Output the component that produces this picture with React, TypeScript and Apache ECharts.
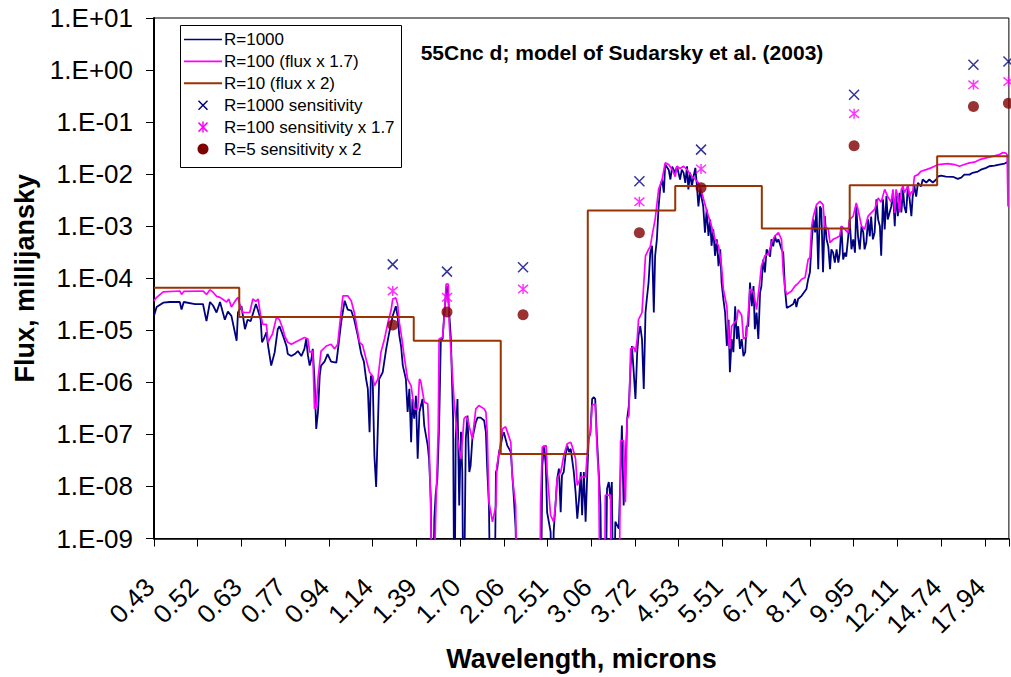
import React, { useEffect, useRef } from 'react';
import * as echarts from 'echarts';

// x positions are in "tick units": 0 = first tick label (0.43 micron), 1 = next label, ...
const tickLabels = ['0.43', '0.52', '0.63', '0.77', '0.94', '1.14', '1.39', '1.70', '2.06', '2.51', '3.06', '3.72', '4.53', '5.51', '6.71', '8.17', '9.95', '12.11', '14.74', '17.94'];
const X_MAX = 19.55;

// R=1000 spectrum [position, flux (mJy)]; 1e-11 = below the plotted range
const r1000Flux: [number, number][] = [
  [0.00, 1.9e-5], [0.06, 2.8e-5], [0.21, 3.4e-5], [0.36, 3.5e-5], [0.59, 3.5e-5], [0.63, 2.5e-5], [0.68, 3.5e-5], [0.94, 3.2e-5], [1.12, 3.2e-5], [1.20, 1.5e-5],
  [1.28, 3.5e-5], [1.35, 3.0e-5], [1.43, 2.2e-5], [1.51, 3.5e-5], [1.62, 1.6e-5], [1.69, 2.3e-5], [1.77, 1.9e-5], [1.89, 6.3e-6], [1.92, 2.2e-5], [2.00, 2.9e-5],
  [2.08, 1.05e-5], [2.14, 1.6e-5], [2.21, 1.5e-5], [2.33, 3.2e-5], [2.38, 2.4e-5], [2.44, 1.6e-5], [2.47, 5.9e-6], [2.51, 6.8e-6], [2.57, 9.2e-6], [2.61, 5.0e-6],
  [2.68, 2.1e-6], [2.76, 3.8e-6], [2.83, 1.05e-5], [2.87, 1.2e-5], [2.95, 7.9e-6], [3.03, 5.0e-6], [3.06, 3.5e-6], [3.14, 3.2e-6], [3.22, 3.5e-6], [3.29, 4.0e-6],
  [3.37, 3.2e-6], [3.44, 4.4e-6], [3.48, 6.8e-6], [3.52, 3.3e-6], [3.56, 2.1e-6], [3.60, 2.8e-6], [3.63, 4.4e-6], [3.67, 1.16e-6], [3.71, 1.28e-7], [3.75, 2.7e-7],
  [3.79, 1.34e-6], [3.82, 2.1e-6], [3.90, 2.5e-6], [3.97, 3.5e-6], [4.05, 2.5e-6], [4.17, 2.4e-6], [4.20, 3.8e-6], [4.28, 1.42e-5], [4.36, 3.7e-5], [4.43, 2.5e-5],
  [4.51, 2.4e-5], [4.58, 1.6e-5], [4.66, 7.9e-6], [4.74, 3.5e-6], [4.80, 2.5e-6], [4.85, 1.16e-6], [4.89, 7.5e-7], [4.93, 1.1e-7], [4.96, 1.34e-6], [5.00, 1.27e-6],
  [5.04, 3.9e-8], [5.08, 9.8e-9], [5.12, 1.48e-7], [5.15, 1.16e-6], [5.23, 1.56e-6], [5.31, 4.4e-6], [5.38, 9.1e-6], [5.46, 1.9e-5], [5.53, 2.9e-5], [5.57, 1.9e-5],
  [5.61, 7.9e-6], [5.65, 5.0e-6], [5.69, 2.1e-6], [5.76, 1.16e-6], [5.80, 2.7e-7], [5.84, 7.5e-7], [5.88, 7.1e-8], [5.91, 4.8e-7], [5.95, 2.0e-7], [5.99, 5.5e-7],
  [6.03, 3.4e-8], [6.07, 2.7e-7], [6.14, 4.8e-7], [6.18, 1.48e-7], [6.26, 6.1e-8], [6.29, 3.4e-8], [6.33, 5.8e-9], [6.37, 1e-11], [6.41, 2.4e-9], [6.44, 6.8e-9],
  [6.48, 1.41e-8], [6.52, 1.48e-7], [6.56, 6.8e-6], [6.60, 6.8e-6], [6.64, 2.2e-5], [6.68, 5.3e-5], [6.71, 7.1e-5], [6.75, 2.2e-5], [6.79, 6.8e-6], [6.81, 1.56e-6],
  [6.84, 2.0e-7], [6.87, 1e-11], [6.90, 8.2e-8], [6.94, 4.8e-7], [6.98, 4.3e-9], [7.02, 1.12e-7], [7.05, 1.9e-8], [7.08, 1e-11], [7.13, 8.2e-8], [7.17, 2.3e-7],
  [7.21, 1.9e-8], [7.24, 2.5e-8], [7.28, 8.2e-8], [7.36, 1.72e-7], [7.40, 2.1e-7], [7.47, 2.1e-7], [7.55, 1.85e-7], [7.59, 1.1e-7], [7.62, 2.2e-8], [7.66, 4.3e-9],
  [7.70, 1e-11], [7.78, 1e-11], [7.82, 1.9e-8], [7.85, 2.2e-8], [7.89, 4.6e-8], [7.93, 6.1e-8], [7.97, 9.5e-8], [8.00, 1.1e-7], [8.04, 8.2e-8], [8.08, 6.1e-8],
  [8.16, 4.6e-8], [8.19, 1.9e-8], [8.23, 5.8e-9], [8.27, 1.55e-9], [8.31, 1e-11], [8.84, 1e-11], [8.88, 2.5e-8], [8.92, 6.1e-8], [8.96, 2.5e-8], [8.99, 3.2e-9],
  [9.07, 1.34e-9], [9.11, 1e-11], [9.14, 1.35e-9], [9.18, 4.3e-9], [9.22, 1.41e-8], [9.26, 2.2e-8], [9.30, 3.2e-9], [9.33, 1.63e-8], [9.37, 1.9e-8], [9.41, 3.9e-8],
  [9.45, 6.1e-8], [9.49, 4.6e-8], [9.53, 5.3e-8], [9.60, 1.9e-8], [9.64, 7.9e-9], [9.68, 2.4e-9], [9.72, 5.8e-9], [9.76, 1.9e-8], [9.79, 2.8e-9], [9.83, 1.9e-8],
  [9.87, 2.1e-9], [9.91, 1.9e-8], [9.94, 8.2e-8], [9.98, 1.1e-7], [10.02, 4.8e-7], [10.06, 5.2e-7], [10.09, 4.8e-7], [10.13, 8.2e-8], [10.17, 1.9e-8], [10.21, 4.3e-9],
  [10.25, 1e-11], [10.32, 1e-11], [10.36, 9.1e-9], [10.40, 1.22e-8], [10.44, 5.8e-9], [10.47, 1.22e-8], [10.51, 1e-11], [10.55, 2.1e-9], [10.63, 1.55e-9], [10.67, 1.9e-8],
  [10.70, 1.48e-7], [10.74, 4.3e-9], [10.78, 1.9e-8], [10.82, 2.0e-7], [10.86, 3.6e-7], [10.90, 2.1e-6], [10.93, 5.0e-6], [10.97, 1.6e-6], [11.01, 4.8e-7], [11.05, 3.8e-6],
  [11.08, 7.9e-6], [11.12, 1.2e-5], [11.16, 6.8e-6], [11.20, 7.5e-7], [11.24, 2.2e-5], [11.27, 4.0e-5], [11.31, 8.3e-5], [11.35, 3.1e-4], [11.39, 4.2e-4], [11.43, 2.2e-5],
  [11.46, 2.7e-4], [11.50, 5.6e-4], [11.54, 2.4e-3], [11.58, 5.9e-3], [11.62, 7.9e-3], [11.66, 4.4e-3], [11.69, 1.53e-2], [11.77, 1.22e-2], [11.81, 7.9e-3], [11.85, 1.4e-2],
  [11.92, 1.06e-2], [11.96, 1.42e-2], [12.03, 7.9e-3], [12.07, 1.22e-2], [12.11, 1.07e-2], [12.15, 6.8e-3], [12.19, 1.42e-2], [12.22, 5.1e-3], [12.26, 1.07e-2], [12.30, 5.8e-3],
  [12.34, 9.1e-3], [12.38, 1.32e-2], [12.41, 6.9e-3], [12.45, 2.4e-3], [12.49, 5.1e-3], [12.53, 3.3e-3], [12.56, 2.4e-3], [12.60, 7.5e-4], [12.64, 2.1e-3], [12.68, 6.5e-4],
  [12.72, 1.35e-3], [12.75, 4.2e-4], [12.79, 8.7e-4], [12.83, 2.7e-4], [12.87, 5.6e-4], [12.91, 1.7e-4], [12.95, 3.6e-4], [12.98, 8.3e-5], [13.02, 4.0e-5], [13.06, 2.2e-5],
  [13.10, 5.0e-6], [13.14, 1.6e-5], [13.17, 1.56e-6], [13.21, 6.8e-6], [13.25, 3.8e-6], [13.29, 2.9e-5], [13.33, 6.8e-6], [13.36, 1.2e-5], [13.40, 4.4e-6], [13.44, 6.8e-6],
  [13.48, 3.2e-6], [13.52, 3.8e-6], [13.55, 1.2e-5], [13.59, 1.2e-5], [13.63, 8.3e-5], [13.67, 2.9e-5], [13.71, 7.1e-5], [13.74, 1.05e-5], [13.78, 2.2e-5], [13.82, 6.8e-6],
  [13.86, 5.3e-5], [13.89, 7.0e-5], [13.93, 2.3e-4], [13.97, 1.3e-4], [14.01, 3.6e-4], [14.09, 2.6e-4], [14.12, 5.6e-4], [14.16, 4.1e-4], [14.20, 6.5e-4], [14.24, 4.9e-4],
  [14.28, 5.6e-4], [14.35, 3.6e-4], [14.39, 3.1e-4], [14.43, 6.2e-5], [14.47, 2.7e-5], [14.54, 2.9e-5], [14.62, 3.2e-5], [14.66, 4.0e-5], [14.69, 2.8e-5], [14.73, 4.0e-5],
  [14.81, 4.6e-5], [14.92, 6.2e-5], [14.96, 9.6e-5], [15.00, 1.3e-4], [15.04, 4.8e-4], [15.08, 1.35e-3], [15.12, 7.6e-4], [15.15, 2.4e-3], [15.19, 1.5e-4], [15.23, 2.4e-3],
  [15.26, 2.1e-3], [15.30, 1.3e-4], [15.34, 1.56e-3], [15.38, 5.6e-4], [15.42, 4.1e-4], [15.46, 1.5e-4], [15.49, 3.6e-4], [15.53, 3.1e-4], [15.57, 2.0e-4], [15.61, 3.6e-4],
  [15.65, 2.0e-4], [15.68, 2.9e-4], [15.72, 1.0e-3], [15.76, 2.3e-4], [15.80, 3.1e-4], [15.83, 2.6e-4], [15.87, 5.6e-4], [15.91, 1.35e-3], [15.95, 3.6e-4], [15.99, 5.6e-4],
  [16.03, 3.1e-4], [16.06, 2.4e-3], [16.10, 6.4e-4], [16.14, 3.6e-4], [16.18, 1.0e-3], [16.22, 7.6e-4], [16.25, 3.6e-4], [16.29, 4.9e-4], [16.33, 1.35e-3], [16.37, 6.4e-4],
  [16.40, 1.54e-3], [16.44, 5.6e-4], [16.48, 7.6e-4], [16.52, 3.3e-3], [16.56, 1.35e-3], [16.60, 1.0e-3], [16.63, 2.7e-4], [16.67, 3.3e-3], [16.71, 8.7e-4], [16.75, 3.8e-3],
  [16.78, 1.35e-3], [16.86, 2.4e-3], [16.90, 4.4e-3], [16.94, 1.0e-3], [16.97, 4.4e-3], [17.01, 1.56e-3], [17.05, 4.4e-3], [17.09, 1.84e-3], [17.13, 5.1e-3], [17.16, 2.4e-3],
  [17.20, 1.8e-3], [17.24, 5.9e-3], [17.28, 3.3e-3], [17.32, 1.56e-3], [17.35, 3.7e-3], [17.39, 5.9e-3], [17.43, 3.7e-3], [17.47, 6.8e-3], [17.54, 5.8e-3], [17.58, 7.9e-3],
  [17.66, 6.9e-3], [17.73, 7.9e-3], [17.81, 6.9e-3], [17.89, 7.9e-3], [17.93, 9.1e-3], [18.00, 9.4e-3], [18.11, 9.0e-3], [18.27, 8.9e-3], [18.38, 8.1e-3], [18.46, 8.6e-3],
  [18.53, 9.8e-3], [18.65, 9.8e-3], [18.72, 1.06e-2], [18.84, 1.12e-2], [18.91, 1.22e-2], [19.03, 1.32e-2], [19.10, 1.42e-2], [19.22, 1.46e-2], [19.33, 1.53e-2], [19.45, 1.6e-2],
  [19.52, 1.7e-2],
];

// R=100 spectrum x 1.7
const r100Flux: [number, number][] = [
  [0.00, 3.7e-5], [0.06, 4.3e-5], [0.21, 5.5e-5], [0.59, 5.7e-5], [0.63, 4.9e-5], [0.68, 5.6e-5], [1.12, 5.7e-5], [1.20, 4.9e-5], [1.28, 6.0e-5], [1.35, 5.4e-5],
  [1.43, 4.5e-5], [1.51, 4.3e-5], [1.66, 3.5e-5], [1.71, 4.0e-5], [1.77, 2.8e-5], [1.85, 3.6e-5], [1.92, 4.3e-5], [1.96, 3.2e-5], [2.03, 2.2e-5], [2.19, 2.2e-5],
  [2.26, 4.0e-5], [2.33, 3.6e-5], [2.38, 4.0e-5], [2.44, 1.9e-5], [2.49, 1.3e-5], [2.57, 1.3e-5], [2.61, 5.9e-6], [2.68, 7.7e-6], [2.71, 8.5e-6], [2.80, 1.77e-5],
  [2.87, 1.6e-5], [2.95, 1.05e-5], [2.99, 7.7e-6], [3.06, 5.9e-6], [3.14, 5.4e-6], [3.44, 7.3e-6], [3.52, 6.8e-6], [3.56, 3.8e-6], [3.63, 4.0e-6], [3.67, 3.1e-7],
  [3.71, 3.4e-7], [3.75, 1.16e-6], [3.82, 4.0e-6], [3.94, 5.0e-6], [4.05, 5.4e-6], [4.13, 4.4e-6], [4.20, 5.4e-6], [4.26, 1.6e-5], [4.32, 4.6e-5], [4.43, 4.6e-5],
  [4.51, 3.7e-5], [4.58, 2.2e-5], [4.70, 5.9e-6], [4.77, 5.2e-6], [4.85, 2.8e-6], [4.93, 1.56e-6], [5.00, 1.33e-6], [5.04, 8.6e-7], [5.12, 1.16e-6], [5.19, 3.8e-6],
  [5.27, 6.8e-6], [5.35, 1.42e-5], [5.42, 2.4e-5], [5.46, 4.0e-5], [5.53, 4.2e-5], [5.57, 3.2e-5], [5.61, 1.42e-5], [5.67, 6.8e-6], [5.72, 3.2e-6], [5.80, 1.16e-6],
  [5.88, 8.6e-7], [5.95, 3.1e-7], [6.03, 3.0e-7], [6.07, 1.16e-6], [6.10, 1.06e-6], [6.18, 4.2e-7], [6.26, 3.9e-7], [6.29, 8.2e-8], [6.33, 3.2e-9], [6.37, 1e-11],
  [6.44, 2.4e-9], [6.50, 1.28e-7], [6.52, 6.8e-6], [6.60, 7.4e-6], [6.64, 1.9e-5], [6.68, 7.7e-5], [6.73, 7.7e-5], [6.75, 1.42e-5], [6.81, 2.1e-6], [6.86, 4.8e-7],
  [6.94, 8.2e-8], [7.02, 3.4e-8], [7.09, 2.0e-7], [7.13, 2.2e-7], [7.17, 2.0e-7], [7.24, 1.12e-7], [7.28, 8.2e-8], [7.36, 3.1e-7], [7.43, 3.6e-7], [7.55, 3.1e-7],
  [7.59, 2.7e-7], [7.62, 1.1e-7], [7.66, 5.0e-9], [7.74, 2.1e-9], [7.82, 4.3e-9], [7.84, 2.5e-8], [7.89, 4.2e-8], [7.97, 1.28e-7], [8.04, 1.4e-7], [8.08, 1.12e-7],
  [8.16, 7.1e-8], [8.19, 1.63e-8], [8.27, 4.3e-9], [8.31, 1e-11], [8.82, 1e-11], [8.84, 5.0e-9], [8.88, 5.7e-8], [8.97, 6.1e-8], [8.99, 1.9e-8], [9.07, 2.8e-9],
  [9.14, 2.1e-9], [9.18, 4.3e-9], [9.22, 1.41e-8], [9.30, 1.9e-8], [9.33, 2.5e-8], [9.37, 3.9e-8], [9.45, 6.6e-8], [9.53, 7.1e-8], [9.56, 6.0e-8], [9.60, 4.6e-8],
  [9.64, 3.4e-8], [9.68, 1.05e-8], [9.76, 1.52e-8], [9.87, 1.52e-8], [9.91, 4.6e-8], [9.94, 8.2e-8], [9.98, 1.12e-7], [10.02, 3.6e-7], [10.09, 3.9e-7], [10.13, 5.7e-8],
  [10.17, 1.41e-8], [10.21, 1e-11], [10.30, 1e-11], [10.32, 6.8e-9], [10.44, 6.8e-9], [10.47, 1e-11], [10.63, 1e-11], [10.67, 7.6e-8], [10.74, 7.6e-8], [10.78, 5.0e-9],
  [10.82, 2.0e-7], [10.86, 2.3e-7], [10.90, 4.4e-6], [10.97, 4.8e-6], [11.01, 3.8e-6], [11.05, 6.8e-6], [11.08, 1.6e-5], [11.16, 2.2e-5], [11.24, 2.7e-4], [11.31, 3.6e-4],
  [11.35, 4.1e-4], [11.39, 6.5e-4], [11.46, 1.35e-3], [11.54, 5.1e-3], [11.62, 7.9e-3], [11.69, 1.65e-2], [11.77, 1.53e-2], [11.85, 1.22e-2], [11.92, 9.0e-3], [11.96, 1.42e-2],
  [12.03, 1.28e-2], [12.11, 1.42e-2], [12.19, 1.22e-2], [12.22, 1.12e-2], [12.30, 9.1e-3], [12.38, 7.9e-3], [12.45, 6.8e-3], [12.53, 4.4e-3], [12.60, 2.6e-3], [12.68, 1.56e-3],
  [12.75, 1.0e-3], [12.83, 5.6e-4], [12.91, 4.2e-4], [12.98, 1.7e-4], [13.02, 6.2e-5], [13.10, 2.9e-5], [13.14, 6.8e-6], [13.17, 4.4e-6], [13.21, 1.2e-5], [13.33, 1.6e-5],
  [13.36, 2.5e-5], [13.44, 1.95e-5], [13.48, 6.8e-6], [13.55, 7.7e-6], [13.63, 6.2e-5], [13.71, 5.4e-5], [13.78, 2.5e-5], [13.86, 9.6e-5], [13.89, 1.7e-4], [13.97, 2.7e-4],
  [14.05, 2.9e-4], [14.12, 4.8e-4], [14.20, 6.5e-4], [14.28, 7.5e-4], [14.35, 5.6e-4], [14.39, 1.3e-4], [14.43, 6.2e-5], [14.47, 4.9e-5], [14.58, 5.7e-5], [14.66, 7.1e-5],
  [14.73, 8.0e-5], [14.81, 9.6e-5], [14.89, 1.04e-4], [14.96, 2.3e-4], [15.00, 2.5e-4], [15.04, 1.0e-3], [15.08, 1.56e-3], [15.15, 2.6e-3], [15.23, 3.0e-3], [15.30, 2.6e-3],
  [15.34, 1.0e-3], [15.42, 8.7e-4], [15.46, 4.8e-4], [15.53, 5.6e-4], [15.61, 6.0e-4], [15.68, 6.5e-4], [15.72, 1.0e-3], [15.80, 8.7e-4], [15.87, 7.5e-4], [15.91, 1.35e-3],
  [15.99, 1.56e-3], [16.06, 2.8e-3], [16.10, 2.1e-3], [16.18, 1.0e-3], [16.25, 8.7e-4], [16.33, 1.56e-3], [16.40, 1.8e-3], [16.48, 2.1e-3], [16.56, 3.5e-3], [16.63, 2.9e-3],
  [16.71, 5.1e-3], [16.78, 3.7e-3], [16.86, 2.9e-3], [16.90, 5.1e-3], [16.94, 1.8e-3], [16.97, 5.1e-3], [17.01, 3.7e-3], [17.05, 1.84e-3], [17.09, 5.1e-3], [17.13, 5.9e-3],
  [17.16, 4.4e-3], [17.24, 5.9e-3], [17.28, 3.7e-3], [17.32, 4.6e-3], [17.35, 4.4e-3], [17.39, 9.1e-3], [17.47, 9.8e-3], [17.54, 1.14e-2], [17.66, 1.22e-2], [17.77, 1.32e-2],
  [17.85, 1.42e-2], [17.93, 1.53e-2], [18.15, 1.6e-2], [18.31, 1.53e-2], [18.42, 1.42e-2], [18.53, 1.53e-2], [18.65, 1.65e-2], [18.76, 1.7e-2], [18.88, 1.9e-2], [19.03, 2.05e-2],
  [19.18, 2.2e-2], [19.33, 2.37e-2], [19.41, 2.6e-2], [19.48, 2.55e-2], [19.51, 2.37e-2], [19.53, 2.4e-3],
];

// R=10 spectrum x 2 : bins (start position) and flux
const r10BinStart = [0, 1.95, 3.94, 5.94, 7.93, 9.92, 11.92, 13.9, 15.91, 17.91];
const r10Flux = [6.6e-5, 1.8e-5, 1.8e-5, 6.3e-6, 4.2e-8, 2.0e-3, 5.9e-3, 9.0e-4, 6.1e-3, 2.2e-2];
const r10End = 19.55;

// Sensitivities
const sensPos = [5.46, 6.70, 8.44, 11.10, 12.51, 16.01, 18.74, 19.54];
const sensR1000 = [1.85e-4, 1.34e-4, 1.63e-4, 7.3e-3, 2.96e-2, 0.335, 1.26, 1.46];
const sensR100 = [5.7e-5, 4.3e-5, 6.2e-5, 2.94e-3, 1.26e-2, 0.145, 0.52, 0.60];
const sensR5 = [1.26e-5, 2.26e-5, 2.0e-5, 7.5e-4, 5.5e-3, 3.5e-2, 0.2, 0.23];

const seriesNames = ['R=1000', 'R=100 (flux x 1.7)', 'R=10 (flux x 2)', 'R=1000 sensitivity', 'R=100 sensitivity x 1.7', 'R=5 sensitivity x 2'];
const chartTitle = '55Cnc d; model of Sudarsky et al. (2003)';

const NAVY = '#000080';
const MAGENTA = '#FF00FF';
const BROWN = '#993300';
const DARKRED = '#800000';
const FONT = '"Liberation Sans", Arial, sans-serif';

const CROSS = 'path://M0,0L10,10M10,0L0,10';
const STAR = 'path://M0,0L10,10M10,0L0,10M5,-1L5,11';

export default function App() {
  const ref = useRef<HTMLDivElement>(null);
  useEffect(() => {
    const chart = echarts.init(ref.current!, null, { renderer: 'svg' });
    const r10Data: [number, number][] = r10BinStart.map((s, i) => [s, r10Flux[i]] as [number, number]);
    r10Data.push([r10End, r10Flux[r10Flux.length - 1]]);

    const legendX = 180.5, legendY = 25.5, legendW = 221, legendH = 142;
    const rowY = (i: number) => 39.5 + i * 21.9;
    const legendText = (i: number) => ({
      type: 'text', x: 224, y: rowY(i), z: 101,
      style: { text: seriesNames[i], fill: '#000', font: `17px ${FONT}`, textAlign: 'left', textVerticalAlign: 'middle', align: 'left', verticalAlign: 'middle' },
    });
    const mx = 203;

    const option: any = {
      animation: false,
      backgroundColor: '#fff',
      textStyle: { fontFamily: FONT },
      grid: { left: 154, top: 18, right: 0, bottom: 137, show: true, borderColor: '#000', borderWidth: 1, backgroundColor: 'transparent' },
      xAxis: {
        type: 'value', min: 0, max: X_MAX, interval: 1,
        axisLine: { show: true, onZero: false, lineStyle: { color: '#000', width: 1.5 } },
        axisTick: { show: true, inside: false, length: 8, lineStyle: { color: '#000', width: 1 } },
        axisLabel: {
          rotate: 45, margin: 40, fontSize: 26, color: '#000', fontFamily: FONT,
          padding: [0, 6, 13, 0],
          formatter: (v: number) => {
            const i = Math.round(v);
            return Math.abs(v - i) < 1e-6 && tickLabels[i] ? tickLabels[i] : '';
          },
        },
        splitLine: { show: false },
        name: 'Wavelength, microns', nameLocation: 'middle', nameGap: 102,
        nameTextStyle: { fontSize: 27, fontWeight: 'bold', color: '#000', fontFamily: FONT },
      },
      yAxis: {
        type: 'log', logBase: 10, min: 1e-9, max: 10, interval: 1, splitNumber: 10,
        axisLine: { show: true, lineStyle: { color: '#000', width: 2 } },
        axisTick: { show: true, inside: false, length: 8, lineStyle: { color: '#000', width: 1 } },
        axisLabel: {
          fontSize: 26, margin: 21, color: '#000', fontFamily: FONT,
          formatter: (v: number) => {
            const e = Math.round(Math.log10(v));
            return `1.E${e < 0 ? '-' : '+'}${String(Math.abs(e)).padStart(2, '0')}`;
          },
        },
        splitLine: { show: false },
        minorTick: { show: false },
        name: 'Flux, millijansky', nameLocation: 'middle', nameRotate: 90, nameGap: 112,
        nameTextStyle: { fontSize: 27, fontWeight: 'bold', color: '#000', fontFamily: FONT },
      },
      series: [
        { name: seriesNames[0], type: 'line', data: r1000Flux, showSymbol: false, symbol: 'none', lineStyle: { color: NAVY, width: 1.8 }, itemStyle: { color: NAVY }, clip: true, z: 2 },
        { name: seriesNames[1], type: 'line', data: r100Flux, showSymbol: false, symbol: 'none', lineStyle: { color: MAGENTA, width: 1.7 }, itemStyle: { color: MAGENTA }, clip: true, z: 3 },
        { name: seriesNames[2], type: 'line', data: r10Data, step: 'end', showSymbol: false, symbol: 'none', lineStyle: { color: BROWN, width: 2 }, itemStyle: { color: BROWN }, clip: true, z: 4 },
        { name: seriesNames[3], type: 'scatter', data: sensPos.map((p, i) => [p, sensR1000[i]]), symbol: CROSS, symbolSize: 10, itemStyle: { color: 'transparent', borderColor: NAVY, borderWidth: 1.5 }, z: 5 },
        { name: seriesNames[4], type: 'scatter', data: sensPos.map((p, i) => [p, sensR100[i]]), symbol: STAR, symbolSize: 10, itemStyle: { color: 'transparent', borderColor: MAGENTA, borderWidth: 1.5 }, z: 5 },
        { name: seriesNames[5], type: 'scatter', data: sensPos.map((p, i) => [p, sensR5[i]]), symbol: 'circle', symbolSize: 11, itemStyle: { color: DARKRED }, z: 5 },
      ],
      graphic: [
        {
          type: 'text', x: 622, y: 52, z: 100,
          style: { text: chartTitle, fill: '#000', font: `bold 21px ${FONT}`, textAlign: 'center', textVerticalAlign: 'middle', align: 'center', verticalAlign: 'middle' },
        },
        { type: 'rect', z: 100, shape: { x: legendX, y: legendY, width: legendW, height: legendH }, style: { fill: '#fff', stroke: '#000', lineWidth: 1 } },
        { type: 'line', z: 101, shape: { x1: 184, y1: rowY(0), x2: 222, y2: rowY(0) }, style: { stroke: NAVY, lineWidth: 1.6 } },
        { type: 'line', z: 101, shape: { x1: 184, y1: rowY(1), x2: 222, y2: rowY(1) }, style: { stroke: MAGENTA, lineWidth: 1.6 } },
        { type: 'line', z: 101, shape: { x1: 184, y1: rowY(2), x2: 222, y2: rowY(2) }, style: { stroke: BROWN, lineWidth: 2 } },
        { type: 'line', z: 101, shape: { x1: mx - 4.5, y1: rowY(3) - 4.5, x2: mx + 4.5, y2: rowY(3) + 4.5 }, style: { stroke: NAVY, lineWidth: 1.5 } },
        { type: 'line', z: 101, shape: { x1: mx + 4.5, y1: rowY(3) - 4.5, x2: mx - 4.5, y2: rowY(3) + 4.5 }, style: { stroke: NAVY, lineWidth: 1.5 } },
        { type: 'line', z: 101, shape: { x1: mx - 4.5, y1: rowY(4) - 4.5, x2: mx + 4.5, y2: rowY(4) + 4.5 }, style: { stroke: MAGENTA, lineWidth: 1.5 } },
        { type: 'line', z: 101, shape: { x1: mx + 4.5, y1: rowY(4) - 4.5, x2: mx - 4.5, y2: rowY(4) + 4.5 }, style: { stroke: MAGENTA, lineWidth: 1.5 } },
        { type: 'line', z: 101, shape: { x1: mx, y1: rowY(4) - 5.5, x2: mx, y2: rowY(4) + 5.5 }, style: { stroke: MAGENTA, lineWidth: 1.5 } },
        { type: 'circle', z: 101, shape: { cx: mx, cy: rowY(5), r: 5.5 }, style: { fill: DARKRED } },
        legendText(0), legendText(1), legendText(2), legendText(3), legendText(4), legendText(5),
      ],
    };
    chart.setOption(option);
    return () => chart.dispose();
  }, []);
  return <div ref={ref} style={{ position: 'absolute', left: 0, top: 0, width: 1011, height: 677 }} />;
}
